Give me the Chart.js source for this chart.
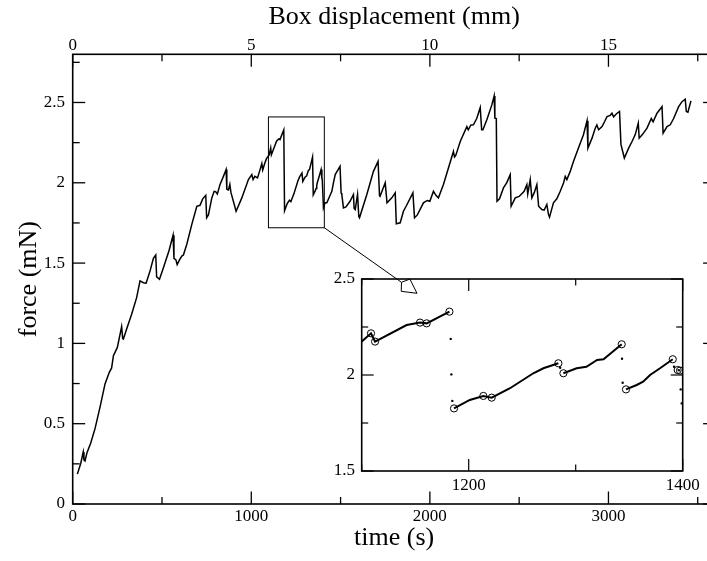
<!DOCTYPE html>
<html><head><meta charset="utf-8">
<script src="https://cdn.jsdelivr.net/npm/chart.js@4.4.1/dist/chart.umd.min.js"></script>
<style>
html,body{margin:0;padding:0;background:#fff;overflow:hidden;width:707px;height:561px;}
#wrap{position:relative;width:707px;height:561px;overflow:hidden;background:#fff;}
#main{position:absolute;left:0;top:0;}
#inset{position:absolute;left:300px;top:260px;}
</style></head><body>
<div id="wrap">
<canvas id="main" width="740" height="561"></canvas>
<canvas id="inset" width="407" height="250"></canvas>
</div>
<script>
// ---- main series: time (s) and force (mN) ----
const timeS = [
  26,45,59,63,69,80,101,125,153,181,
  205,218,228,250,274,280,284,302,330,358,
  377,396,411,433,452,465,470,486,508,540,
  562,567,578,585,598,611,620,639,667,695,
  713,728,745,750,760,779,792,800,810,825,
  844,859,863,872,880,886,915,947,984,1003,
  1010,1020,1035,1049,1059,1064,1075,1085,1100,1108.7,
  1112.5,1142,1154.5,1160.7,1182,1186.3,1201,1213.7,1221.5,1238.6,
  1260.4,1269.8,1283.8,1288.5,1300.9,1310,1320,1326,1343,1347,
  1357,1363,1366.4,1369.5,1378.8,1390.7,1395.3,1397.5,1404,1413,
  1423,1451,1460,1470,1497,1503,1507,1516,1530,1553,
  1572,1576,1582,1595,1602,1606,1647,1684,1710,1718,
  1721,1750,1760,1787,1806,1812,1834,1852,1870,1905,
  1914,1930,1964,1985,2000,2020,2035,2048,2076,2104,
  2132,2138,2145,2170,2207,2215,2230,2244,2263,2282,
  2290,2297,2319,2347,2360,2364,2372,2376,2390,2412,
  2430,2450,2455,2478,2500,2528,2543,2548,2562,2571,
  2585,2599,2609,2627,2640,2655,2664,2670,2692,2711,
  2730,2749,2758,2767,2786,2804,2832,2860,2880,2885,
  2908,2926,2935,2945,2964,2978,2992,3010,3020,3029,
  3045,3062,3070,3089,3113,3132,3150,3167,3172,3190,
  3216,3240,3250,3272,3300,3306,3328,3346,3365,3393,
  3412,3430,3436,3445,3462
];
const forceMN = [
  0.186,0.252,0.324,0.275,0.268,0.32,0.380,0.469,0.603,0.748,
  0.820,0.847,0.924,0.975,1.104,1.03,1.027,1.089,1.182,1.285,
  1.389,1.378,1.375,1.451,1.530,1.550,1.414,1.399,1.471,1.58,
  1.674,1.53,1.52,1.49,1.52,1.544,1.55,1.617,1.741,1.854,
  1.860,1.90,1.922,1.782,1.80,1.906,1.947,1.945,1.93,1.99,
  2.040,2.082,1.96,1.955,1.99,1.94,1.823,1.906,2.020,2.051,
  2.02,2.04,2.03,2.082,2.12,2.08,2.12,2.15,2.174,2.217,
  2.174,2.26,2.273,2.269,2.33,1.826,1.87,1.891,1.882,1.931,
  2.009,2.035,2.061,2.009,2.035,2.043,2.078,2.082,2.16,1.925,
  1.948,1.965,1.983,2.0,2.035,2.082,2.026,2.023,1.844,1.875,
  1.875,1.947,2.0,2.051,2.102,1.937,1.927,1.844,1.85,1.885,
  1.927,1.84,1.833,1.927,1.79,1.782,1.927,2.071,2.133,1.92,
  1.916,2.0,1.875,1.906,1.937,1.745,1.751,1.823,1.86,1.937,
  1.782,1.80,1.875,1.89,1.885,1.947,1.92,1.906,1.989,2.092,
  2.195,2.16,2.17,2.257,2.350,2.33,2.36,2.361,2.402,2.468,
  2.33,2.33,2.392,2.485,2.541,2.402,2.40,1.885,1.90,1.968,
  2.00,2.051,1.854,1.906,1.915,1.947,1.989,1.93,2.020,1.906,
  1.94,1.989,1.854,1.833,1.83,1.865,1.803,1.786,1.875,1.90,
  1.947,2.0,2.04,2.02,2.071,2.133,2.216,2.299,2.386,2.216,
  2.278,2.340,2.36,2.330,2.350,2.38,2.412,2.42,2.433,2.41,
  2.43,2.444,2.239,2.154,2.216,2.257,2.30,2.371,2.278,2.30,
  2.340,2.40,2.38,2.433,2.474,2.309,2.350,2.361,2.40,2.474,
  2.505,2.520,2.444,2.44,2.510
];

// ---- inset series (zoom of 1100-1400 s) ----
const insetT = [1085,1100,1108.7,1112.5,1142,1154.5,1160.7,1182, 1184,
  1186.3,1201,1213.7,1221.5,1238.6,1260.4,1269.8,1283.8, 1286,
  1288.5,1300.9,1310,1320,1326,1343, 1345,
  1347,1357,1363,1366.4,1369.5,1378.8,1390.7, 1393,
  1395.3,1397.5];
const insetF = [2.15,2.174,2.217,2.174,2.26,2.273,2.269,2.33, null,
  1.826,1.87,1.891,1.882,1.931,2.009,2.035,2.061, null,
  2.009,2.035,2.043,2.078,2.082,2.16, null,
  1.925,1.948,1.965,1.983,2.0,2.035,2.082, null,
  2.026,2.023];
const circleT = [1108.7,1112.5,1154.5,1160.7,1182,1186.3,1213.7,1221.5,1283.8,1288.5,1343,1347,1390.7,1395.3,1397.5];
const circleF = [2.217,2.174,2.273,2.269,2.33,1.826,1.891,1.882,2.061,2.009,2.16,1.925,2.082,2.026,2.023];
const dotT = [1183.2,1183.8,1184.7,1285.5,1343.3,1343.9,1391.9,1398.1,1399.1];
const dotF = [2.188,2.003,1.865,2.038,2.085,1.96,2.043,1.925,1.852];

// ---- ticks ----
const timeTicks = [0,1000,2000,3000];
const timeMinor = [500,1500,2500,3500];
const mmTicks = [0,5,10,15];
const mmMinor = [2.5,7.5,12.5,17.5];
const forceTicks = [0,0.5,1,1.5,2,2.5];
const forceMinor = [0.25,0.75,1.25,1.75,2.25,2.75];
const insetTimeTicks = [1200,1400];
const insetTimeMinor = [1100,1300];
const insetForceTicks = [1.5,2,2.5];
const insetForceMinor = [1.75,2.25];

// zoom box drawn on main plot and arrow tip (data units)
const zoomBoxTime = [1096,1409];
const zoomBoxForce = [1.72,2.41];
const arrowTip = [1928,1.312];

const FONT = "'Liberation Serif','Times New Roman',Times,serif";
const INK = '#000';
const tickFont = {family: FONT, size: 17, lineHeight: 1};
const titleFont = {family: FONT, size: 26, lineHeight: 1.2};
const fmt = v => String(v);
const setTicks = vals => s => { s.ticks = vals.map(v => ({value: v})); };
const pts = (xs, ys) => xs.map((x, i) => ({x, y: ys[i]}));

const framePlugin = {
  id: 'frame',
  afterDraw(chart, args, opts) {
    const {ctx, chartArea: a} = chart;
    ctx.save();
    ctx.strokeStyle = INK;
    ctx.lineWidth = opts.tickWidth;
    opts.axes.forEach(ax => {
      const s = chart.scales[ax.id];
      [[ax.major, opts.majorLen], [ax.minor, opts.minorLen]].forEach(([vals, len]) => {
        vals.forEach(v => {
          const p = s.getPixelForValue(v);
          ax.edges.forEach(e => {
            ctx.beginPath();
            if (e === 'bottom') { ctx.moveTo(p, a.bottom); ctx.lineTo(p, a.bottom - len); }
            if (e === 'top') { ctx.moveTo(p, a.top); ctx.lineTo(p, a.top + len); }
            if (e === 'left') { ctx.moveTo(a.left, p); ctx.lineTo(a.left + len, p); }
            if (e === 'right') { ctx.moveTo(a.right, p); ctx.lineTo(a.right - len, p); }
            ctx.stroke();
          });
        });
      });
    });
    ctx.lineWidth = opts.frameWidth;
    ctx.strokeRect(a.left, a.top, a.right - a.left, a.bottom - a.top);
    ctx.restore();
  }
};

const zoomPlugin = {
  id: 'zoomBox',
  afterDatasetsDraw(chart) {
    const {ctx} = chart; const x = chart.scales.x, y = chart.scales.y;
    const x0 = x.getPixelForValue(zoomBoxTime[0]), x1 = x.getPixelForValue(zoomBoxTime[1]);
    const yb = y.getPixelForValue(zoomBoxForce[0]), yt = y.getPixelForValue(zoomBoxForce[1]);
    ctx.save(); ctx.strokeStyle = INK; ctx.lineWidth = 1;
    ctx.strokeRect(x0, yt, x1 - x0, yb - yt);
    const tx = x.getPixelForValue(arrowTip[0]), ty = y.getPixelForValue(arrowTip[1]);
    const dx = tx - x1, dy = ty - yb, L = Math.hypot(dx, dy);
    const ux = dx / L, uy = dy / L, nx = -uy, ny = ux;
    const bx = tx - 19 * ux, by = ty - 19 * uy;
    ctx.beginPath(); ctx.moveTo(x1, yb); ctx.lineTo(bx, by); ctx.stroke();
    ctx.beginPath();
    ctx.moveTo(tx, ty);
    ctx.lineTo(tx - 14 * ux + 7.5 * nx, ty - 14 * uy + 7.5 * ny);
    ctx.lineTo(bx, by);
    ctx.lineTo(tx - 14 * ux - 7.5 * nx, ty - 14 * uy - 7.5 * ny);
    ctx.closePath();
    ctx.fillStyle = '#fff'; ctx.fill(); ctx.stroke();
    ctx.restore();
  }
};

new Chart(document.getElementById('main'), {
  type: 'scatter',
  data: { datasets: [{
    data: pts(timeS, forceMN), showLine: true, borderColor: INK, borderWidth: 1.5,
    pointRadius: 0, tension: 0, fill: false
  }]},
  options: {
    responsive: false, animation: false, devicePixelRatio: 1, events: [],
    layout: {padding: {left: 0, right: 24.4, top: 0, bottom: 0}},
    plugins: {
      legend: {display: false}, tooltip: {enabled: false},
      frame: {
        tickWidth: 1.3, frameWidth: 1.6, majorLen: 12.5, minorLen: 7,
        axes: [
          {id: 'x', major: timeTicks, minor: timeMinor, edges: ['bottom']},
          {id: 'x2', major: mmTicks, minor: mmMinor, edges: ['top']},
          {id: 'y', major: forceTicks, minor: forceMinor, edges: ['left', 'right']}
        ]
      }
    },
    scales: {
      x: {
        type: 'linear', position: 'bottom', min: 0, max: 3600,
        afterBuildTicks: setTicks(timeTicks), afterFit: s => { s.height = 57; },
        grid: {display: false, drawTicks: false}, border: {display: false},
        ticks: {font: tickFont, color: INK, padding: 4.2, maxRotation: 0, autoSkip: false, callback: fmt},
        title: {display: true, text: 'time (s)', font: titleFont, color: INK, padding: {top: 0, bottom: 6.9}}
      },
      x2: {
        type: 'linear', axis: 'x', position: 'top', min: 0, max: 18,
        afterBuildTicks: setTicks(mmTicks), afterFit: s => { s.height = 54.3; },
        grid: {display: false, drawTicks: false}, border: {display: false},
        ticks: {font: tickFont, color: INK, padding: 0, maxRotation: 0, autoSkip: false, callback: fmt},
        title: {display: true, text: 'Box displacement (mm)', font: titleFont, color: INK, padding: {top: 1.5, bottom: 0}}
      },
      y: {
        type: 'linear', position: 'left', min: 0, max: 2.8,
        afterBuildTicks: setTicks(forceTicks), afterFit: s => { s.width = 72.7; },
        grid: {display: false, drawTicks: false}, border: {display: false},
        ticks: {font: tickFont, color: INK, padding: 7.7, autoSkip: false, callback: fmt},
        title: {display: true, text: 'force (mN)', font: titleFont, color: INK, padding: {top: 13.6, bottom: 0}}
      }
    }
  },
  plugins: [framePlugin, zoomPlugin]
});

new Chart(document.getElementById('inset'), {
  type: 'scatter',
  data: { datasets: [
    {data: pts(insetT, insetF), showLine: true, spanGaps: false, borderColor: INK, borderWidth: 2,
     pointRadius: 0, tension: 0, fill: false},
    {data: pts(circleT, circleF), showLine: false, pointStyle: 'circle', pointRadius: 3.6,
     pointBorderWidth: 1, borderColor: INK, backgroundColor: 'rgba(0,0,0,0)'},
    {data: pts(dotT, dotF), showLine: false, pointStyle: 'circle', pointRadius: 1.2,
     pointBorderWidth: 0, borderColor: INK, backgroundColor: INK}
  ]},
  options: {
    responsive: false, animation: false, devicePixelRatio: 1, events: [],
    layout: {padding: {left: 0, right: 24.3, top: 19, bottom: 0}},
    plugins: {
      legend: {display: false}, tooltip: {enabled: false},
      frame: {
        tickWidth: 1.2, frameWidth: 1.6, majorLen: 12, minorLen: 6.5,
        axes: [
          {id: 'x', major: insetTimeTicks, minor: insetTimeMinor, edges: ['bottom', 'top']},
          {id: 'y', major: insetForceTicks, minor: insetForceMinor, edges: ['left', 'right']}
        ]
      }
    },
    scales: {
      x: {
        type: 'linear', position: 'bottom', min: 1100, max: 1400,
        afterBuildTicks: setTicks(insetTimeTicks), afterFit: s => { s.height = 39; },
        grid: {display: false, drawTicks: false}, border: {display: false},
        ticks: {font: tickFont, color: INK, padding: 6.3, maxRotation: 0, autoSkip: false, callback: fmt}
      },
      y: {
        type: 'linear', position: 'left', min: 1.5, max: 2.5,
        afterBuildTicks: setTicks(insetForceTicks), afterFit: s => { s.width = 61.7; },
        grid: {display: false, drawTicks: false}, border: {display: false},
        ticks: {font: tickFont, color: INK, padding: 6.7, autoSkip: false, callback: fmt}
      }
    }
  },
  plugins: [framePlugin]
});
</script>
</body></html>
